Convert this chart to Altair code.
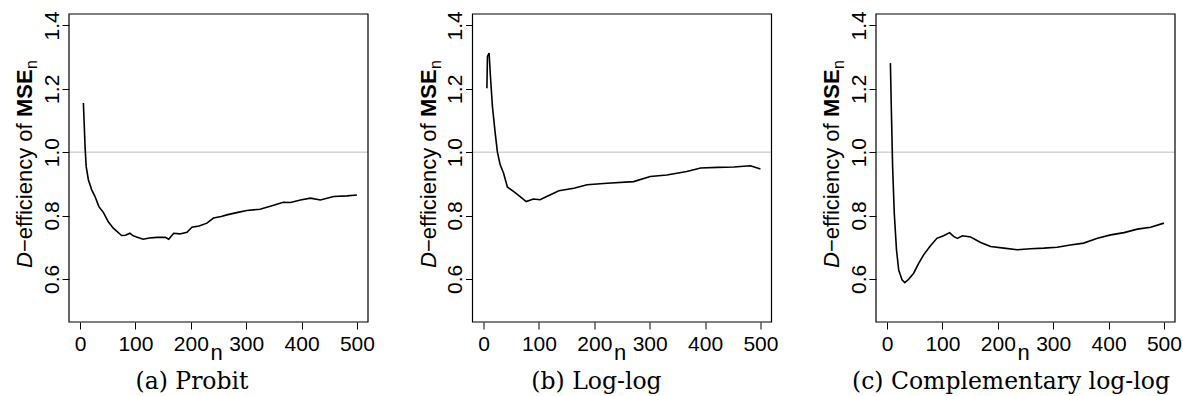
import altair as alt
import pandas as pd

# ---- data ----
n_probit = [6, 9, 11, 15, 21, 27, 34, 42, 51, 60, 75, 82, 90, 96, 102, 114, 125, 139,
            154, 160, 169, 180, 193, 202, 215, 229, 241, 255, 265, 285, 301, 325, 345,
            367, 380, 398, 416, 434, 458, 482, 500]
eff_probit = [1.155, 1.018, 0.955, 0.913, 0.881, 0.860, 0.828, 0.810, 0.780, 0.760, 0.737,
              0.738, 0.744, 0.736, 0.732, 0.725, 0.729, 0.731, 0.731, 0.725, 0.744, 0.742,
              0.747, 0.763, 0.767, 0.776, 0.792, 0.797, 0.802, 0.810, 0.816, 0.820, 0.830,
              0.842, 0.841, 0.849, 0.855, 0.849, 0.860, 0.862, 0.865]

n_loglog = [6, 7, 10, 12, 16, 21, 25, 30, 36, 43, 54, 66, 77, 90, 102, 114, 136, 163,
            187, 223, 271, 301, 331, 367, 392, 422, 452, 482, 500]
eff_loglog = [1.202, 1.302, 1.313, 1.250, 1.144, 1.060, 1.000, 0.960, 0.934, 0.890, 0.876,
              0.860, 0.844, 0.852, 0.850, 0.860, 0.878, 0.886, 0.897, 0.902, 0.907, 0.923,
              0.928, 0.939, 0.950, 0.952, 0.953, 0.957, 0.947]

n_cloglog = [6, 8, 10, 13, 17, 21, 27, 32, 39, 48, 57, 66, 78, 90, 102, 113, 120, 127, 136,
             151, 169, 187, 211, 235, 259, 283, 307, 331, 355, 380, 404, 428, 452, 476, 500]
eff_cloglog = [1.281, 1.113, 0.955, 0.807, 0.692, 0.628, 0.597, 0.588, 0.599, 0.618, 0.649,
               0.676, 0.704, 0.728, 0.736, 0.746, 0.734, 0.728, 0.736, 0.732, 0.715, 0.702,
               0.697, 0.692, 0.695, 0.697, 0.700, 0.707, 0.713, 0.728, 0.739, 0.746, 0.757,
               0.763, 0.776]

captions = ["(a) Probit", "(b) Log-log", "(c) Complementary log-log"]
caption_centers = [123, 124, 135]
x_ticks = [0, 100, 200, 300, 400, 500]
y_ticks = [0.6, 0.8, 1.0, 1.2, 1.4]
reference_level = [1.0]

W, H = 299, 308
SANS = "Liberation Sans"
SERIF = "DejaVu Serif"
one = alt.Data(values=[{}])


def panel(n, eff, caption, cap_x, first=False, last=False):
    df = pd.DataFrame({"n": n, "eff": eff})
    x = alt.X("n:Q", scale=alt.Scale(domain=[-20, 520], nice=False, zero=False),
              axis=alt.Axis(values=x_ticks, title=None, grid=False, domain=False,
                            ticks=True, tickSize=7, tickWidth=1, tickColor="black",
                            tickOpacity=1, labelFontSize=21,
                            labelFont=SANS, labelColor="black", labelPadding=4))
    y = alt.Y("eff:Q", scale=alt.Scale(domain=[0.464, 1.436], nice=False, zero=False),
              axis=alt.Axis(values=y_ticks, format=".1f", title=None, grid=False,
                            domain=False, ticks=True, tickSize=7, tickWidth=1,
                            tickColor="black", tickOpacity=1,
                            labelFontSize=21, labelFont=SANS, labelColor="black",
                            labelAngle=270, labelAlign="center",
                            labelBaseline="bottom", labelPadding=0))
    line = alt.Chart(df).mark_line(color="black", strokeWidth=1.6).encode(x=x, y=y)
    ref = alt.Chart(pd.DataFrame({"v": reference_level})).mark_rule(
        color="#bdbdbd", strokeWidth=1).encode(y=alt.Y("v:Q"))
    frame = alt.Chart(one).mark_rect(filled=False, stroke="black", strokeWidth=1.2).encode(
        x=alt.value(0), x2=alt.value(W), y=alt.value(0), y2=alt.value(H))

    lab_x = -37
    d = alt.Chart(one).mark_text(font=SANS, fontSize=22, fontStyle="italic",
                                 angle=270, align="left", baseline="alphabetic",
                                 color="black").encode(
        x=alt.value(lab_x), y=alt.value(254), text=alt.value("D"))
    mid = alt.Chart(one).mark_text(font=SANS, fontSize=22, angle=270, align="left",
                                   baseline="alphabetic", color="black").encode(
        x=alt.value(lab_x), y=alt.value(238), text=alt.value("\u2212efficiency of "))
    mse = alt.Chart(one).mark_text(font=SANS, fontSize=22, fontWeight="bold",
                                   angle=270, align="left", baseline="alphabetic",
                                   color="black").encode(
        x=alt.value(lab_x), y=alt.value(103), text=alt.value("MSE"))
    sub = alt.Chart(one).mark_text(font=SANS, fontSize=16, angle=270, align="left",
                                   baseline="alphabetic", color="black").encode(
        x=alt.value(lab_x + 5), y=alt.value(55), text=alt.value("n"))
    xt = alt.Chart(one).mark_text(font=SANS, fontSize=22, align="center",
                                  baseline="alphabetic", color="black").encode(
        x=alt.value(W / 2 - 2), y=alt.value(346), text=alt.value("n"))
    cap = alt.Chart(one).mark_text(font=SERIF, fontSize=23.5, align="center",
                                   baseline="alphabetic", color="black").encode(
        x=alt.value(cap_x), y=alt.value(375), text=alt.value(caption))
    layers = [ref, line, frame, d, mid, mse, sub, xt, cap]
    if first:
        layers.append(alt.Chart(one).mark_rule(strokeOpacity=0, strokeWidth=0.001).encode(
            x=alt.value(-69), y=alt.value(-14), y2=alt.value(382)))
    if last:
        layers.append(alt.Chart(one).mark_rule(strokeOpacity=0, strokeWidth=0.001).encode(
            x=alt.value(1183 - 876), y=alt.value(-14), y2=alt.value(382)))
    return alt.layer(*layers).properties(width=W, height=H)


chart = alt.hconcat(
    panel(n_probit, eff_probit, captions[0], caption_centers[0], first=True),
    panel(n_loglog, eff_loglog, captions[1], caption_centers[1]),
    panel(n_cloglog, eff_cloglog, captions[2], caption_centers[2], last=True),
    spacing=104.5, bounds="flush",
).properties(padding=0, background="white").configure_view(stroke=None)

chart.save("out.html", embed_options={"renderer": "svg", "actions": False})
